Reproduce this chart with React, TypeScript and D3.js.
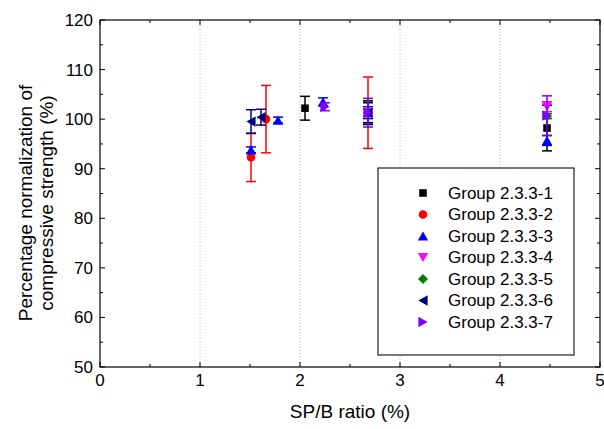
import React from "react";
import * as d3 from "d3";

// ---- data ----
const groupNames = [
  "Group 2.3.3-1",
  "Group 2.3.3-2",
  "Group 2.3.3-3",
  "Group 2.3.3-4",
  "Group 2.3.3-5",
  "Group 2.3.3-6",
  "Group 2.3.3-7",
];
const g1X = [2.05, 2.68, 4.47];
const g1Y = [102.2, 101.3, 98.2];
const g1E = [2.4, 2.4, 4.6];
const g2X = [1.51, 1.66, 2.68];
const g2Y = [92.3, 100.0, 101.3];
const g2E = [4.9, 6.8, 7.2];
const g3X = [1.51, 1.78, 2.23, 2.68, 4.47];
const g3Y = [93.8, 99.8, 103.5, 101.3, 95.7];
const g3E = [0.6, 0.6, 0.8, 1.2, 1.0];
const g4X = [2.68, 4.47];
const g4Y = [101.3, 102.5];
const g4E = [0.8, 1.0];
const g5X = [2.68, 4.47];
const g5Y = [101.3, 100.6];
const g5E = [2.2, 0.5];
const g6X = [1.51, 1.61, 2.68];
const g6Y = [99.5, 100.4, 101.3];
const g6E = [2.4, 1.6, 2.0];
const g7X = [2.25, 2.68, 4.47];
const g7Y = [102.5, 101.3, 100.7];
const g7E = [0.8, 2.9, 4.0];
const xTicks = [0, 1, 2, 3, 4, 5];
const yTicks = [50, 60, 70, 80, 90, 100, 110, 120];

const colors = ["#000000", "#FF0000", "#0000FF", "#FF00FF", "#008000", "#000080", "#8000FF"];
const shapes = ["square", "circle", "up", "down", "diamond", "left", "right"];

const series = [
  [g1X, g1Y, g1E],
  [g2X, g2Y, g2E],
  [g3X, g3Y, g3E],
  [g4X, g4Y, g4E],
  [g5X, g5Y, g5E],
  [g6X, g6Y, g6E],
  [g7X, g7Y, g7E],
].map(([xs, ys, es], i) => ({
  name: groupNames[i],
  color: colors[i],
  shape: shapes[i],
  pts: xs.map((x, j) => ({ x, y: ys[j], e: es[j] })),
}));

const W = 604;
const H = 429;
const L = 100, R = 600, T = 20, B = 367;
const x = d3.scaleLinear().domain([0, 5]).range([L, R]);
const y = d3.scaleLinear().domain([50, 120]).range([B, T]);

function markerPath(shape: string, cx: number, cy: number): string {
  const p = d3.path();
  if (shape === "square") {
    const s = 3.8;
    p.rect(cx - s, cy - s, 2 * s, 2 * s);
  } else if (shape === "circle") {
    p.moveTo(cx + 4.3, cy);
    p.arc(cx, cy, 4.3, 0, Math.PI * 2);
  } else if (shape === "diamond") {
    const s = 5;
    p.moveTo(cx, cy - s);
    p.lineTo(cx + s, cy);
    p.lineTo(cx, cy + s);
    p.lineTo(cx - s, cy);
    p.closePath();
  } else {
    const a = 5.2; // half base
    const h = 4.6; // half height
    if (shape === "up") {
      p.moveTo(cx, cy - h); p.lineTo(cx + a, cy + h); p.lineTo(cx - a, cy + h);
    } else if (shape === "down") {
      p.moveTo(cx, cy + h); p.lineTo(cx + a, cy - h); p.lineTo(cx - a, cy - h);
    } else if (shape === "left") {
      p.moveTo(cx - h, cy); p.lineTo(cx + h, cy - a); p.lineTo(cx + h, cy + a);
    } else {
      p.moveTo(cx + h, cy); p.lineTo(cx - h, cy - a); p.lineTo(cx - h, cy + a);
    }
    p.closePath();
  }
  return p.toString();
}

const font = "Arial, 'Liberation Sans', sans-serif";

export default function App() {
  const xMinor = d3.range(0.5, 5, 1);
  const yMinor = d3.range(55, 120, 10);
  const titleY = 203;
  return (
    <svg width={W} height={H} style={{ position: "absolute", left: 0, top: 0, background: "#fff" }}>
      <rect x={0} y={0} width={W} height={H} fill="#fff" />
      {/* grid */}
      {xTicks.filter((t) => t > 0 && t < 5).map((t) => (
        <line key={"g" + t} x1={x(t)} x2={x(t)} y1={T} y2={B} stroke="#b8b8b8" strokeWidth={1} strokeDasharray="1,2" />
      ))}
      {/* ticks */}
      {xTicks.map((t) => (
        <g key={"xt" + t}>
          <line x1={x(t)} x2={x(t)} y1={B} y2={B - 5} stroke="#000" />
          <line x1={x(t)} x2={x(t)} y1={T} y2={T + 5} stroke="#000" />
          <text x={x(t)} y={386} textAnchor="middle" fontFamily={font} fontSize={17} fill="#000">{t}</text>
        </g>
      ))}
      {xMinor.map((t) => (
        <g key={"xm" + t}>
          <line x1={x(t)} x2={x(t)} y1={B} y2={B - 3} stroke="#000" />
          <line x1={x(t)} x2={x(t)} y1={T} y2={T + 3} stroke="#000" />
        </g>
      ))}
      {yTicks.map((t) => (
        <g key={"yt" + t}>
          <line x1={L} x2={L + 5} y1={y(t)} y2={y(t)} stroke="#000" />
          <line x1={R} x2={R - 5} y1={y(t)} y2={y(t)} stroke="#000" />
          <text x={93} y={y(t)} dy="0.35em" textAnchor="end" fontFamily={font} fontSize={17} fill="#000">{t}</text>
        </g>
      ))}
      {yMinor.map((t) => (
        <g key={"ym" + t}>
          <line x1={L} x2={L + 3} y1={y(t)} y2={y(t)} stroke="#000" />
          <line x1={R} x2={R - 3} y1={y(t)} y2={y(t)} stroke="#000" />
        </g>
      ))}
      <rect x={L} y={T} width={R - L} height={B - T} fill="none" stroke="#000" strokeWidth={1.2} />
      {/* legend */}
      <rect x={378} y={168} width={196} height={187} fill="#fff" stroke="#333" strokeWidth={1.3} />
      {series.map((s, i) => (
        <g key={"lg" + i}>
          <path d={markerPath(s.shape, 423, 193 + i * 21.5)} fill={s.color} />
          <text x={448} y={193 + i * 21.5} dy="0.35em" fontFamily={font} fontSize={17} fill="#000">{s.name}</text>
        </g>
      ))}
      {/* data */}
      {series.map((s, i) => (
        <g key={"s" + i}>
          {s.pts.map((p, j) => (
            <g key={j} stroke={s.color} strokeWidth={1.5}>
              <line x1={x(p.x)} x2={x(p.x)} y1={y(p.y - p.e)} y2={y(p.y + p.e)} />
              <line x1={x(p.x) - 5} x2={x(p.x) + 5} y1={y(p.y - p.e)} y2={y(p.y - p.e)} />
              <line x1={x(p.x) - 5} x2={x(p.x) + 5} y1={y(p.y + p.e)} y2={y(p.y + p.e)} />
            </g>
          ))}
          {s.pts.map((p, j) => (
            <path key={"m" + j} d={markerPath(s.shape, x(p.x), y(p.y))} fill={s.color} />
          ))}
        </g>
      ))}
      {/* titles */}
      <text x={350} y={418} textAnchor="middle" fontFamily={font} fontSize={19} fill="#000">SP/B ratio (%)</text>
      <text transform={`translate(32,${titleY}) rotate(-90)`} textAnchor="middle" fontFamily={font} fontSize={19} fill="#000">Percentage normalization of</text>
      <text transform={`translate(53,${titleY}) rotate(-90)`} textAnchor="middle" fontFamily={font} fontSize={19} fill="#000">compressive strength (%)</text>
    </svg>
  );
}
